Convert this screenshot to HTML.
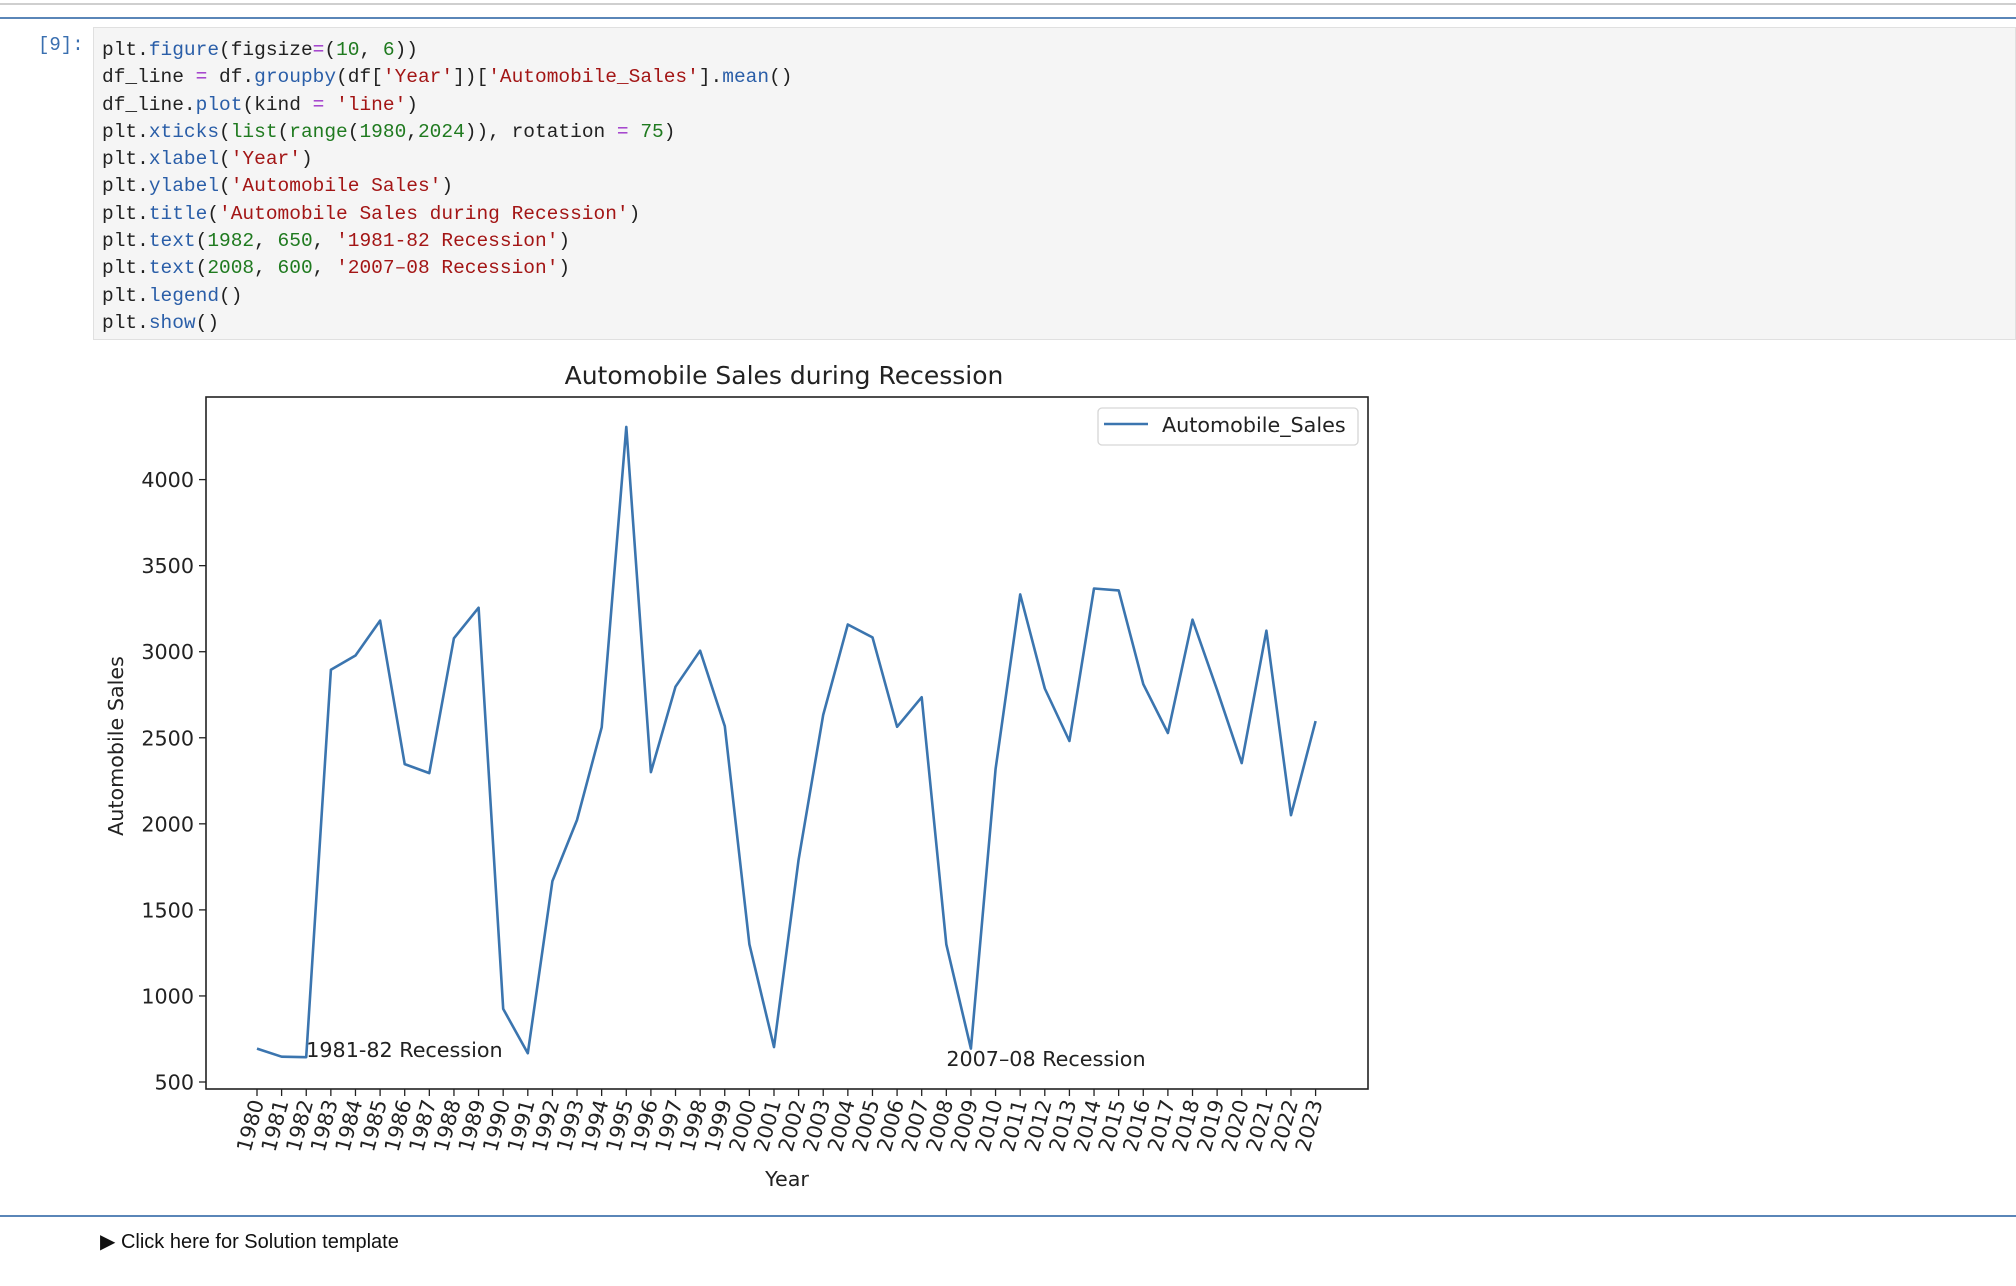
<!DOCTYPE html>
<html><head><meta charset="utf-8">
<style>
body{margin:0;width:2016px;height:1286px;background:#fff;position:relative;overflow:hidden;font-family:"DejaVu Sans","Liberation Sans",sans-serif}
.abs{position:absolute}
#code{left:93px;top:27px;width:1923px;height:313px;background:#f5f5f5;border:1px solid #e0e0e0;box-sizing:border-box;font-family:"Liberation Mono","DejaVu Sans Mono",monospace;font-size:19.5px;line-height:27.3px;padding:9px 0 0 8px;white-space:pre;color:#212121}
.k{color:#2a5ea8}.s{color:#a31515}.n{color:#1f7a1f}.o{color:#9b30c8}
</style></head><body>
<div class="abs" style="left:0;top:3px;width:2016px;height:2px;background:#cfcfcf"></div>
<div class="abs" style="left:0;top:17px;width:2016px;height:2px;background:#5a86b8"></div>
<div class="abs" style="left:38px;top:34px;font-family:'Liberation Mono',monospace;font-size:19px;color:#3a6fb0">[9]:</div>
<div id="code" class="abs">plt.<span class="k">figure</span>(figsize<span class="o">=</span>(<span class="n">10</span>, <span class="n">6</span>))
df_line <span class="o">=</span> df.<span class="k">groupby</span>(df[<span class="s">'Year'</span>])[<span class="s">'Automobile_Sales'</span>].<span class="k">mean</span>()
df_line.<span class="k">plot</span>(kind <span class="o">=</span> <span class="s">'line'</span>)
plt.<span class="k">xticks</span>(<span class="n">list</span>(<span class="n">range</span>(<span class="n">1980</span>,<span class="n">2024</span>)), rotation <span class="o">=</span> <span class="n">75</span>)
plt.<span class="k">xlabel</span>(<span class="s">'Year'</span>)
plt.<span class="k">ylabel</span>(<span class="s">'Automobile Sales'</span>)
plt.<span class="k">title</span>(<span class="s">'Automobile Sales during Recession'</span>)
plt.<span class="k">text</span>(<span class="n">1982</span>, <span class="n">650</span>, <span class="s">'1981-82 Recession'</span>)
plt.<span class="k">text</span>(<span class="n">2008</span>, <span class="n">600</span>, <span class="s">'2007–08 Recession'</span>)
plt.<span class="k">legend</span>()
plt.<span class="k">show</span>()</div>

<svg class="abs" style="left:0;top:0" width="2016" height="1286" id="chart"></svg>

<div class="abs" style="left:0;top:1215px;width:2016px;height:2px;background:#5a86b8"></div>
<div class="abs" style="left:100px;top:1229px;font-family:'Liberation Sans',sans-serif;font-size:20px;color:#111">▶ Click here for Solution template</div>

<script>
const years = [];
for (let y = 1980; y <= 2023; y++) years.push(y);
const sales = [694,647,644,2895,2978,3181,2347,2295,3078,3256,925,667,1667,2022,2561,4306,2300,2797,3006,2567,1300,703,1792,2633,3158,3083,2564,2736,1300,694,2320,3333,2786,2481,3367,3356,2811,2528,3186,2778,2353,3122,2050,2597];
const yTicks = [500,1000,1500,2000,2500,3000,3500,4000];
const annotations = [{x:1982,y:650,label:'1981-82 Recession'},{x:2008,y:600,label:'2007–08 Recession'}];

const L=206,R=1368,T=397,B=1089;
const FS=20.7;
const xs = v => 257 + (v-1980)*(1315.6-257)/43;
const ys = v => 1082 - (v-500)*(1082-479.6)/3500;
const svg = document.getElementById('chart');
const NS='http://www.w3.org/2000/svg';
function mk(tag, attrs, text){const e=document.createElementNS(NS,tag);for(const k in attrs)e.setAttribute(k,attrs[k]);if(text!==undefined)e.textContent=text;svg.appendChild(e);return e;}

let e=mk('text',{x:784,y:384,'text-anchor':'middle','font-size':'25','fill':'#222'},'Automobile Sales during Recession');



yTicks.forEach(v=>{
  const y=ys(v);
  let t=mk('line',{x1:L-7,x2:L,y1:y,y2:y,stroke:'#222','stroke-width':1.3});
  
  
  let l=mk('text',{x:L-12,y:y+7.5,'text-anchor':'end','font-size':FS,'fill':'#222'},String(v));
  
  
});
years.forEach(v=>{
  const x=xs(v);
  let t=mk('line',{x1:x,x2:x,y1:B,y2:B+7,stroke:'#222','stroke-width':1.3});
  
  
  let l=mk('text',{x:0,y:0,'text-anchor':'end','font-size':FS,'fill':'#222',transform:`translate(${x+7},${B+13}) rotate(-75)`},String(v));
  
  
});

let pts=years.map((v,i)=>xs(v).toFixed(1)+','+ys(sales[i]).toFixed(1)).join(' ');
let pl=mk('polyline',{points:pts,fill:'none',stroke:'#3b75af','stroke-width':2.6,'stroke-linejoin':'round'});



annotations.forEach(a=>{
  let t=mk('text',{x:xs(a.x),y:ys(a.y)+1,'font-size':FS,'fill':'#222'},a.label);
  
  
});

let fr=mk('rect',{x:L,y:T,width:R-L,height:B-T,fill:'none',stroke:'#222','stroke-width':1.6});



let lg=mk('rect',{x:1098,y:408,width:260,height:37,rx:4,fill:'#fff',stroke:'#d6d6d6','stroke-width':1.3});


let ll=mk('line',{x1:1104,x2:1148,y1:424,y2:424,stroke:'#3b75af','stroke-width':2.6});


let lt=mk('text',{x:1162,y:432,'font-size':FS,'fill':'#222'},'Automobile_Sales');



let xl=mk('text',{x:787,y:1186,'text-anchor':'middle','font-size':FS,'fill':'#222'},'Year');


let yl=mk('text',{x:0,y:0,'text-anchor':'middle','font-size':FS,'fill':'#222',transform:'translate(123,746) rotate(-90)'},'Automobile Sales');


</script>
</body></html>
